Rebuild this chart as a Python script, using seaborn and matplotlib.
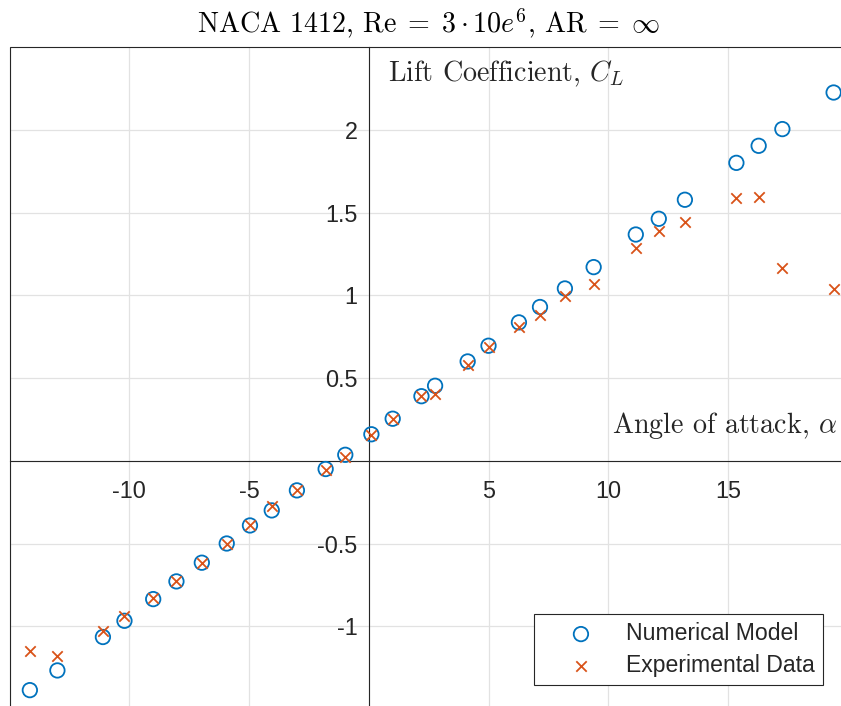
import numpy as np
import pandas as pd
import matplotlib
matplotlib.use("Agg")
import matplotlib.pyplot as plt
import seaborn as sns
from matplotlib.patches import Rectangle

# Data: NACA 1412 lift curve
alpha = [-14.15, -13.0, -11.1, -10.2, -9.0, -8.03, -6.97, -5.93, -4.96, -4.05,
         -3.0, -1.8, -0.98, 0.11, 1.0, 2.2, 2.77, 4.13, 5.0, 6.27,
         7.15, 8.19, 9.39, 11.15, 12.11, 13.2, 15.35, 16.28, 17.27, 19.41]
cl_model = [-1.386, -1.267, -1.065, -0.967, -0.836, -0.729, -0.616, -0.50, -0.391, -0.30,
            -0.179, -0.05, 0.036, 0.16, 0.254, 0.39, 0.453, 0.60, 0.695, 0.836,
            0.929, 1.041, 1.17, 1.367, 1.462, 1.577, 1.80, 1.903, 2.004, 2.225]
cl_exp = [-1.152, -1.182, -1.031, -0.94, -0.83, -0.725, -0.616, -0.50, -0.387, -0.276,
          -0.175, -0.054, 0.022, 0.157, 0.254, 0.393, 0.403, 0.578, 0.69, 0.808,
          0.878, 0.993, 1.068, 1.285, 1.386, 1.444, 1.587, 1.593, 1.166, 1.039]

x_ticks = [-10, -5, 5, 10, 15]
x_ticklabels = ["-10", "-5", "5", "10", "15"]
y_ticks = [-1, -0.5, 0.5, 1, 1.5, 2]
y_ticklabels = ["-1", "-0.5", "0.5", "1", "1.5", "2"]

df = pd.DataFrame({"alpha": alpha, "model": cl_model, "exp": cl_exp})

sns.set_style("white")
plt.rcParams["font.family"] = ["Liberation Sans", "DejaVu Sans"]
plt.rcParams["mathtext.fontset"] = "cm"

blue = "#0072BD"
orange = "#D95319"
axcol = "#262626"

fig = plt.figure(figsize=(8.41, 7.06), dpi=100)
ax = fig.add_axes([9.5 / 841, -0.00425, 838.25 / 841, 662 / 706])

sns.scatterplot(data=df, x="alpha", y="model", ax=ax, marker="o", s=108,
                facecolor="none", edgecolor=blue, linewidth=1.3,
                label="Numerical Model", zorder=3)
sns.scatterplot(data=df, x="alpha", y="exp", ax=ax, marker="x", s=56,
                color=orange, linewidth=1.3,
                label="Experimental Data", zorder=3)

ax.set_xlim(-15, 20)
ax.set_ylim(-1.5, 2.5)

# grid
ax.set_xticks(x_ticks)
ax.set_xticklabels(x_ticklabels)
ax.set_yticks(y_ticks)
ax.set_yticklabels(y_ticklabels)
for v in [-15, -10, -5, 0, 5, 10, 15]:
    ax.axvline(v, color="#e2e2e2", lw=0.9, zorder=0)
for v in [-1, -0.5, 0, 0.5, 1, 1.5, 2]:
    ax.axhline(v, color="#e2e2e2", lw=0.9, zorder=0)

# axes through the origin
for side in ["top", "right"]:
    ax.spines[side].set_visible(False)
ax.spines["left"].set_position(("data", 0))
ax.spines["bottom"].set_position(("data", 0))
for side in ["left", "bottom"]:
    ax.spines[side].set_color(axcol)
    ax.spines[side].set_linewidth(0.8)
    ax.spines[side].set_zorder(2)
ax.add_patch(Rectangle((0, 0), 1, 1, transform=ax.transAxes, fill=False,
                       ec=axcol, lw=0.8, clip_on=False, zorder=2))

ax.tick_params(direction="in", length=6.5, width=0.8, color=axcol,
               labelcolor=axcol, labelsize=16.8)
ax.tick_params(axis="x", pad=14)
ax.tick_params(axis="y", pad=8)
ax.set_xlabel("")
ax.set_ylabel("")

ax.annotate(r"Lift Coefficient, $C_L$", xy=(0, 1), xycoords=("data", "axes fraction"),
            xytext=(13.7, -24.5), textcoords="offset points", ha="left", va="baseline",
            fontsize=20.2, family="cmr10", color=axcol)
ax.annotate(r"Angle of attack, $\alpha$", xy=(1, 0), xycoords=("axes fraction", "data"),
            xytext=(-7.6, 20), textcoords="offset points", ha="right", va="baseline",
            fontsize=20.2, family="cmr10", color=axcol)
ax.set_title(r"NACA 1412, $\mathrm{Re}\;=\;3\cdot 10e^{6}$, $\mathrm{AR}\;=\;\infty$",
             family="cmr10", fontsize=20.2, color="black", pad=10)

leg = ax.legend(loc="lower right", bbox_to_anchor=(0.9707, 0.0363), borderaxespad=0,
                fontsize=16.6, frameon=True, fancybox=False, framealpha=1,
                edgecolor=axcol, borderpad=0.35, handlelength=3.4, handletextpad=0.27,
                labelspacing=0.38)
leg.get_frame().set_linewidth(0.8)

fig.savefig("out.png", dpi=100)
